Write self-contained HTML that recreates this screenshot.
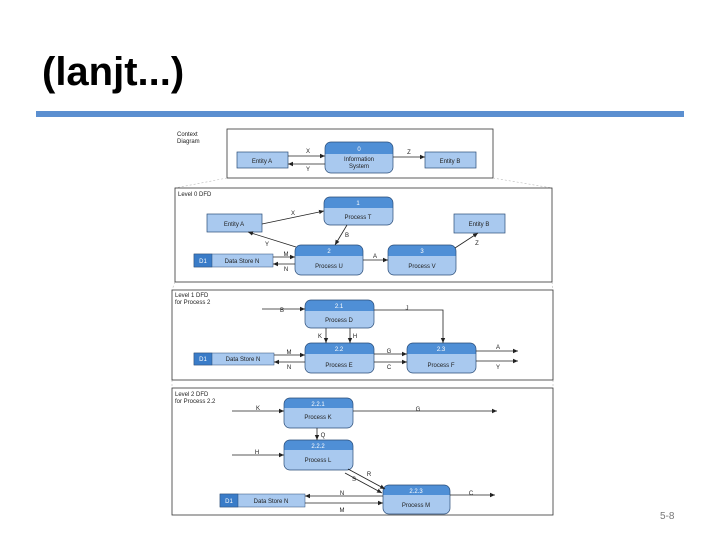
<!DOCTYPE html>
<html><head><meta charset="utf-8"><style>
html,body{margin:0;padding:0;background:#fff;width:720px;height:540px;overflow:hidden}
svg{display:block}
text{font-family:"Liberation Sans",Arial,sans-serif}
</style></head><body>
<svg width="720" height="540" viewBox="0 0 720 540" xmlns="http://www.w3.org/2000/svg">
<defs>
<marker id="a" markerWidth="6" markerHeight="6" refX="5" refY="3" orient="auto" markerUnits="userSpaceOnUse"><path d="M0,0.8 L5,3 L0,5.2 Z" fill="#222"/></marker>
</defs>
<text x="42" y="85" font-size="40" font-weight="bold" font-family="Liberation Sans" fill="#000">(lanjt...)</text>
<rect x="36" y="111" width="648" height="6" fill="#5b8fd0"/>
<text x="660" y="519" font-size="10" fill="#777">5-8</text>

<g font-size="6" fill="#222" stroke="none">
<rect x="227" y="129" width="266" height="49" fill="#fff" stroke="#333" stroke-width="0.8"/>
<text x="177" y="136">Context</text><text x="177" y="143">Diagram</text>
<g stroke="#bbb" stroke-width="0.6" stroke-dasharray="2,2" fill="none">
<line x1="227" y1="178" x2="175" y2="188"/><line x1="493" y1="178" x2="552" y2="188"/>
<line x1="175" y1="282" x2="172" y2="290"/><line x1="552" y1="282" x2="553" y2="290"/>
<line x1="172" y1="380" x2="172" y2="388"/><line x1="553" y1="380" x2="553" y2="388"/>
</g>
<rect x="175" y="188" width="377" height="94" fill="none" stroke="#333" stroke-width="0.8"/>
<text x="178" y="196">Level 0 DFD</text>
<rect x="172" y="290" width="381" height="90" fill="none" stroke="#333" stroke-width="0.8"/>
<text x="175" y="297">Level 1 DFD</text><text x="175" y="304">for Process 2</text>
<rect x="172" y="388" width="381" height="127" fill="none" stroke="#333" stroke-width="0.8"/>
<text x="175" y="396">Level 2 DFD</text><text x="175" y="403">for Process 2.2</text>

<g stroke="#2b4d78" stroke-width="0.7" fill="#a9c9ef">
<rect x="237" y="152" width="51" height="16"/>
<rect x="425" y="152" width="51" height="16"/>
<rect x="207" y="214" width="55" height="18"/>
<rect x="454" y="214" width="51" height="19"/>
</g>
<text x="262" y="163" text-anchor="middle">Entity A</text>
<text x="450" y="163" text-anchor="middle">Entity B</text>
<text x="234" y="226" text-anchor="middle">Entity A</text>
<text x="479" y="226" text-anchor="middle">Entity B</text>

<g stroke="#2b4d78" stroke-width="0.5">
<rect x="194" y="254" width="79" height="13" fill="#a9c9ef"/><rect x="194" y="254" width="18" height="13" fill="#3a7cc8"/>
<rect x="194" y="353" width="80" height="12" fill="#a9c9ef"/><rect x="194" y="353" width="18" height="12" fill="#3a7cc8"/>
<rect x="220" y="494" width="85" height="13" fill="#a9c9ef"/><rect x="220" y="494" width="18" height="13" fill="#3a7cc8"/>
</g>
<g fill="#fff"><text x="203" y="263" text-anchor="middle">D1</text><text x="203" y="361" text-anchor="middle">D1</text><text x="229" y="503" text-anchor="middle">D1</text></g>
<text x="242" y="263" text-anchor="middle">Data Store N</text>
<text x="243" y="361" text-anchor="middle">Data Store N</text>
<text x="271" y="503" text-anchor="middle">Data Store N</text>

<g stroke-width="0.7">
<g><rect x="325" y="142" width="68" height="31" rx="6" fill="#a9c9ef"/><rect x="325" y="142" width="68" height="12" rx="6" fill="#4f8fd6"/><rect x="325" y="148" width="68" height="6" fill="#4f8fd6"/><rect x="325" y="142" width="68" height="31" rx="6" fill="none" stroke="#2b4d78"/></g>
<g><rect x="324" y="197" width="69" height="28" rx="6" fill="#a9c9ef"/><rect x="324" y="197" width="69" height="11" rx="6" fill="#4f8fd6"/><rect x="324" y="202" width="69" height="6" fill="#4f8fd6"/><rect x="324" y="197" width="69" height="28" rx="6" fill="none" stroke="#2b4d78"/></g>
<g><rect x="295" y="245" width="68" height="30" rx="6" fill="#a9c9ef"/><rect x="295" y="245" width="68" height="11" rx="6" fill="#4f8fd6"/><rect x="295" y="250" width="68" height="6" fill="#4f8fd6"/><rect x="295" y="245" width="68" height="30" rx="6" fill="none" stroke="#2b4d78"/></g>
<g><rect x="388" y="245" width="68" height="30" rx="6" fill="#a9c9ef"/><rect x="388" y="245" width="68" height="11" rx="6" fill="#4f8fd6"/><rect x="388" y="250" width="68" height="6" fill="#4f8fd6"/><rect x="388" y="245" width="68" height="30" rx="6" fill="none" stroke="#2b4d78"/></g>
<g><rect x="305" y="300" width="69" height="28" rx="6" fill="#a9c9ef"/><rect x="305" y="300" width="69" height="11" rx="6" fill="#4f8fd6"/><rect x="305" y="305" width="69" height="6" fill="#4f8fd6"/><rect x="305" y="300" width="69" height="28" rx="6" fill="none" stroke="#2b4d78"/></g>
<g><rect x="305" y="343" width="69" height="30" rx="6" fill="#a9c9ef"/><rect x="305" y="343" width="69" height="11" rx="6" fill="#4f8fd6"/><rect x="305" y="348" width="69" height="6" fill="#4f8fd6"/><rect x="305" y="343" width="69" height="30" rx="6" fill="none" stroke="#2b4d78"/></g>
<g><rect x="407" y="343" width="69" height="30" rx="6" fill="#a9c9ef"/><rect x="407" y="343" width="69" height="11" rx="6" fill="#4f8fd6"/><rect x="407" y="348" width="69" height="6" fill="#4f8fd6"/><rect x="407" y="343" width="69" height="30" rx="6" fill="none" stroke="#2b4d78"/></g>
<g><rect x="284" y="398" width="69" height="30" rx="6" fill="#a9c9ef"/><rect x="284" y="398" width="69" height="10" rx="6" fill="#4f8fd6"/><rect x="284" y="402" width="69" height="6" fill="#4f8fd6"/><rect x="284" y="398" width="69" height="30" rx="6" fill="none" stroke="#2b4d78"/></g>
<g><rect x="284" y="440" width="69" height="30" rx="6" fill="#a9c9ef"/><rect x="284" y="440" width="69" height="10" rx="6" fill="#4f8fd6"/><rect x="284" y="444" width="69" height="6" fill="#4f8fd6"/><rect x="284" y="440" width="69" height="30" rx="6" fill="none" stroke="#2b4d78"/></g>
<g><rect x="383" y="485" width="67" height="29" rx="6" fill="#a9c9ef"/><rect x="383" y="485" width="67" height="10" rx="6" fill="#4f8fd6"/><rect x="383" y="489" width="67" height="6" fill="#4f8fd6"/><rect x="383" y="485" width="67" height="29" rx="6" fill="none" stroke="#2b4d78"/></g>
</g>
<g fill="#fff" text-anchor="middle">
<text x="359" y="151">0</text><text x="358" y="205">1</text><text x="329" y="253">2</text><text x="422" y="253">3</text>
<text x="339" y="308">2.1</text><text x="339" y="351">2.2</text><text x="441" y="351">2.3</text>
<text x="318" y="406">2.2.1</text><text x="318" y="448">2.2.2</text><text x="416" y="493">2.2.3</text>
</g>
<g text-anchor="middle">
<text x="359" y="161">Information</text><text x="359" y="168">System</text>
<text x="358" y="219">Process T</text><text x="329" y="268">Process U</text><text x="422" y="268">Process V</text>
<text x="339" y="322">Process D</text><text x="339" y="367">Process E</text><text x="441" y="367">Process F</text>
<text x="318" y="419">Process K</text><text x="318" y="462">Process L</text><text x="416" y="507">Process M</text>
</g>

<g stroke="#222" stroke-width="0.8" fill="none" marker-end="url(#a)">
<line x1="288" y1="156" x2="325" y2="156"/><line x1="325" y1="164" x2="288" y2="164"/><line x1="393" y1="157" x2="425" y2="157"/>
<line x1="262" y1="224" x2="324" y2="211"/><line x1="347" y1="225" x2="335" y2="245"/><line x1="296" y1="247" x2="248" y2="232"/>
<line x1="273" y1="257" x2="295" y2="257"/><line x1="295" y1="264" x2="273" y2="264"/><line x1="363" y1="260" x2="388" y2="260"/><line x1="455" y1="248" x2="478" y2="233"/>
<line x1="262" y1="309" x2="305" y2="309"/><polyline points="374,310 443,310 443,343"/><line x1="326" y1="328" x2="326" y2="343"/><line x1="350" y1="328" x2="350" y2="343"/>
<line x1="274" y1="355" x2="305" y2="355"/><line x1="305" y1="362" x2="274" y2="362"/><line x1="374" y1="354" x2="407" y2="354"/><line x1="374" y1="362" x2="407" y2="362"/>
<line x1="476" y1="351" x2="518" y2="351"/><line x1="476" y1="361" x2="518" y2="361"/>
<line x1="232" y1="411" x2="284" y2="411"/><line x1="353" y1="411" x2="497" y2="411"/><line x1="317" y1="428" x2="317" y2="440"/><line x1="232" y1="455" x2="284" y2="455"/>
<line x1="348" y1="469" x2="385" y2="489"/><line x1="345" y1="473" x2="382" y2="493"/>
<line x1="383" y1="496" x2="305" y2="496"/><line x1="305" y1="503" x2="383" y2="503"/><line x1="450" y1="495" x2="495" y2="495"/>
</g>
<g text-anchor="middle">
<text x="308" y="153">X</text><text x="308" y="171">Y</text><text x="409" y="154">Z</text>
<text x="293" y="215">X</text><text x="347" y="237">B</text><text x="267" y="246">Y</text>
<text x="286" y="256">M</text><text x="286" y="271">N</text><text x="375" y="258">A</text><text x="477" y="245">Z</text>
<text x="282" y="312">B</text><text x="407" y="310">J</text><text x="320" y="338">K</text><text x="355" y="338">H</text>
<text x="289" y="354">M</text><text x="289" y="369">N</text><text x="389" y="353">G</text><text x="389" y="369">C</text>
<text x="498" y="349">A</text><text x="498" y="369">Y</text>
<text x="258" y="410">K</text><text x="418" y="411">G</text><text x="323" y="437">Q</text><text x="257" y="454">H</text>
<text x="369" y="476">R</text><text x="354" y="481">S</text>
<text x="342" y="495">N</text><text x="342" y="512">M</text><text x="471" y="495">C</text>
</g>
</g>
</svg>
</body></html>
